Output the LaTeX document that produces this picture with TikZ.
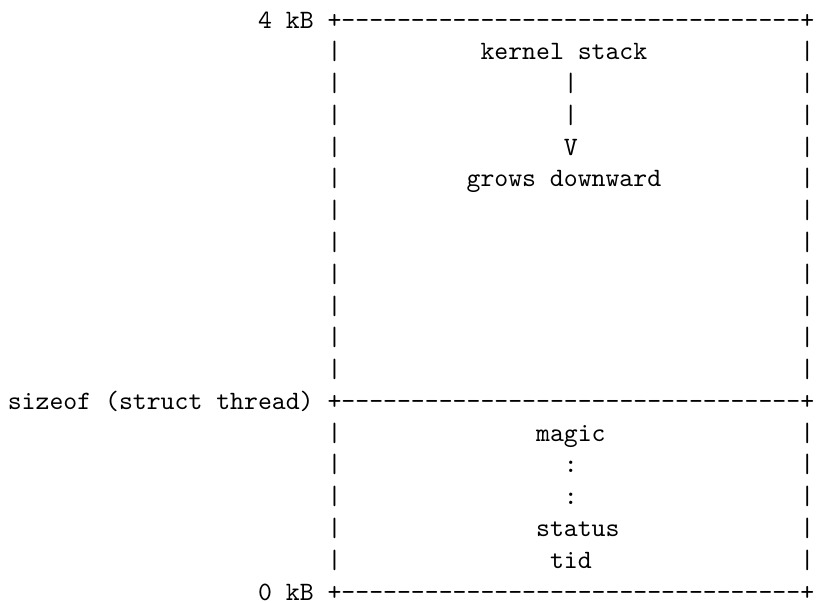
\documentclass[tikz,border=0pt]{standalone}
\usepackage{amsmath}

\begin{document}
\begin{tikzpicture}[x=5.25pt,y=-12pt,
        txt/.style={font=\ttfamily,inner sep=0pt,anchor=base west}]
            \useasboundingbox (-2.76pt,10.6pt) rectangle (305.4pt,-216.75pt);
            % corner rows
            \foreach \r/\n in {0/top,12/mid,18/bot}{
                \node[txt] (\n-l) at (23,\r) {+};
                \node[txt] (\n-r) at (57,\r) {+};
                \foreach \c in {24,...,56} \node[txt] (\n-\c) at (\c,\r) {-};
            }
            % side walls
            \foreach \r in {1,2,3,4,5,6,7,8,9,10,11,13,14,15,16,17}{
                \node[txt] (wl-\r) at (23,\r) {|};
                \node[txt] (wr-\r) at (57,\r) {|};
            }
            \node[txt] (four) at (18,0) {4 kB};
            \node[txt] (size) at (0,12) {sizeof (struct thread)};
            \node[txt] (zero) at (18,18) {0 kB};
            % stack part
            \node[txt] (kstack) at (34,1) {kernel stack};
            \node[txt] (bar1) at (40,2) {|};
            \node[txt] (bar2) at (40,3) {|};
            \node[txt] (vee) at (40,4) {V};
            \node[txt] (grows) at (33,5) {grows downward};
            % thread part
            \node[txt] (magic) at (38,13) {magic};
            \node[txt] (dots1) at (40,14) {:};
            \node[txt] (dots2) at (40,15) {:};
            \node[txt] (status) at (38,16) {status};
            \node[txt] (tid) at (39,17) {tid};
        \end{tikzpicture}
\end{document}
